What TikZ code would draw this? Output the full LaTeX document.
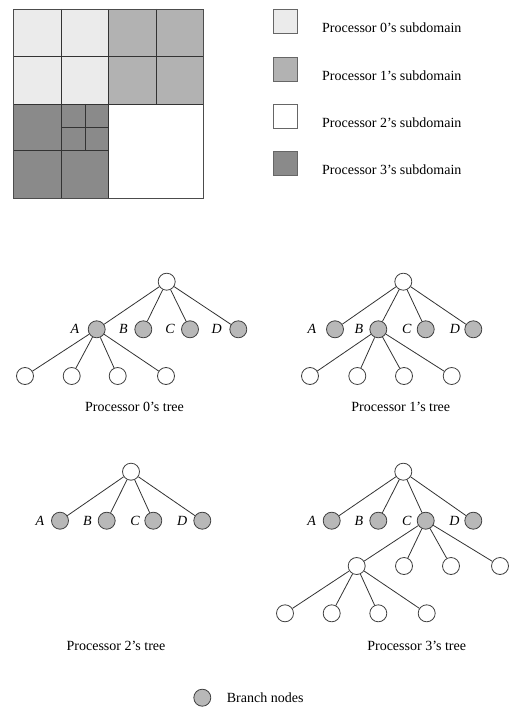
\documentclass[tikz,border=0pt]{standalone}
\usepackage{fontspec}
\setmainfont{Liberation Serif}
\begin{document}
\begin{tikzpicture}[x=1pt,y=-1pt,
  every node/.style={font=\fontsize{14}{16}\selectfont},
  edge/.style={draw=black!80, line width=0.8pt},
  leaf/.style={circle, draw=black!75, line width=0.8pt, fill=white, minimum size=17pt, inner sep=0pt},
  branch/.style={circle, draw=black!75, line width=0.8pt, fill=black!28, minimum size=17pt, inner sep=0pt},
  lbl/.style={font=\fontsize{14}{16}\selectfont\itshape, inner sep=0pt},
  captext/.style={inner sep=0pt},
  gridline/.style={draw=black!80, line width=0.7pt},
  legbox/.style={draw=black!60, line width=0.8pt, minimum size=24pt, inner sep=0pt}]
\useasboundingbox (0,0) rectangle (517,722);
\definecolor{pzero}{gray}{0.92}
\definecolor{pone}{gray}{0.70}
\definecolor{pthree}{gray}{0.54}
% ---- subdomain grid ----
\fill[pzero] (13,9) rectangle (108,104);
\fill[pone] (108,9) rectangle (203,104);
\fill[pthree] (13,104) rectangle (108,198);
\fill[white] (108,104) rectangle (203,198);
\draw[gridline] (61,9) -- (61,198);
\draw[gridline] (156,9) -- (156,104);
\draw[gridline] (108,9) -- (108,198);
\draw[gridline] (13,56) -- (203,56);
\draw[gridline] (13,104) -- (203,104);
\draw[gridline] (13,150) -- (108,150);
\draw[gridline, line width=0.5pt] (85,104) -- (85,150);
\draw[gridline, line width=0.5pt] (61,127) -- (108,127);
\draw[draw=black!70, line width=0.9pt] (13,9) rectangle (203,198);
% ---- legend ----
\node[legbox, fill=pzero] (k0) at (285.5,21) {};
\node[legbox, fill=pone] (k1) at (285.5,69) {};
\node[legbox, fill=white] (k2) at (285.5,116) {};
\node[legbox, fill=pthree] (k3) at (285.5,163) {};
\node[captext, anchor=west] (t0) at (322,28) {Processor 0's subdomain};
\node[captext, anchor=west] (t1) at (322,76) {Processor 1's subdomain};
\node[captext, anchor=west] (t2) at (322,123) {Processor 2's subdomain};
\node[captext, anchor=west] (t3) at (322,170) {Processor 3's subdomain};
% ---- Processor 0's tree ----
\node[leaf] (r0) at (166.7,281.7) {};
\node[branch] (a0) at (96.7,329.3) {};
\node[branch] (b0) at (143.3,329.3) {};
\node[branch] (c0) at (190,329.3) {};
\node[branch] (d0) at (238.3,329.3) {};
\node[lbl] (la0) at (75,329.3) {A};
\node[lbl] (lb0) at (123.3,329.3) {B};
\node[lbl] (lc0) at (170,329.3) {C};
\node[lbl] (ld0) at (216.7,329.3) {D};
\node[leaf] (e01) at (25,376) {};
\node[leaf] (e02) at (71.7,376) {};
\node[leaf] (e03) at (117.7,376) {};
\node[leaf] (e04) at (166,376) {};
\foreach \n in {a0,b0,c0,d0} \draw[edge] (r0) -- (\n);
\foreach \n in {e01,e02,e03,e04} \draw[edge] (a0) -- (\n);
\node[captext] (cap0) at (134.5,407) {Processor 0's tree};
% ---- Processor 1's tree ----
\node[leaf] (r1) at (403.3,281.7) {};
\node[branch] (a1) at (335,329.3) {};
\node[branch] (b1) at (378.3,329.3) {};
\node[branch] (c1) at (425.7,329.3) {};
\node[branch] (d1) at (473.3,329.3) {};
\node[lbl] (la1) at (312,329.3) {A};
\node[lbl] (lb1) at (359,329.3) {B};
\node[lbl] (lc1) at (406.7,329.3) {C};
\node[lbl] (ld1) at (455,329.3) {D};
\node[leaf] (e11) at (310,376) {};
\node[leaf] (e12) at (357.3,376) {};
\node[leaf] (e13) at (404,376) {};
\node[leaf] (e14) at (451.7,376) {};
\foreach \n in {a1,b1,c1,d1} \draw[edge] (r1) -- (\n);
\foreach \n in {e11,e12,e13,e14} \draw[edge] (b1) -- (\n);
\node[captext] (cap1) at (400.8,407) {Processor 1's tree};
% ---- Processor 2's tree ----
\node[leaf] (r2) at (131,471.7) {};
\node[branch] (a2) at (60,520.7) {};
\node[branch] (b2) at (106.7,520.7) {};
\node[branch] (c2) at (153.3,520.7) {};
\node[branch] (d2) at (202.3,520.7) {};
\node[lbl] (la2) at (40,520.7) {A};
\node[lbl] (lb2) at (87.3,520.7) {B};
\node[lbl] (lc2) at (135,520.7) {C};
\node[lbl] (ld2) at (182.3,520.7) {D};
\foreach \n in {a2,b2,c2,d2} \draw[edge] (r2) -- (\n);
\node[captext] (cap2) at (116,645.7) {Processor 2's tree};
% ---- Processor 3's tree ----
\node[leaf] (r3) at (403.3,471.7) {};
\node[branch] (a3) at (331.7,520.7) {};
\node[branch] (b3) at (378.3,520.7) {};
\node[branch] (c3) at (425.7,520.7) {};
\node[branch] (d3) at (473.3,520.7) {};
\node[lbl] (la3) at (311.7,520.7) {A};
\node[lbl] (lb3) at (359,520.7) {B};
\node[lbl] (lc3) at (406.7,520.7) {C};
\node[lbl] (ld3) at (454.3,520.7) {D};
\node[leaf] (m31) at (356.7,566) {};
\node[leaf] (m32) at (404,566) {};
\node[leaf] (m33) at (451,566) {};
\node[leaf] (m34) at (500,566) {};
\node[leaf] (e31) at (285,613.3) {};
\node[leaf] (e32) at (331.7,613.3) {};
\node[leaf] (e33) at (378.3,613.3) {};
\node[leaf] (e34) at (426.7,613.3) {};
\foreach \n in {a3,b3,c3,d3} \draw[edge] (r3) -- (\n);
\foreach \n in {m31,m32,m33,m34} \draw[edge] (c3) -- (\n);
\foreach \n in {e31,e32,e33,e34} \draw[edge] (m31) -- (\n);
\node[captext] (cap3) at (416.7,645.7) {Processor 3's tree};
% ---- branch node legend ----
\node[branch] (kb) at (202.3,697.7) {};
\node[captext, anchor=west] (tb) at (226.7,697.7) {Branch nodes};
\end{tikzpicture}
\end{document}
